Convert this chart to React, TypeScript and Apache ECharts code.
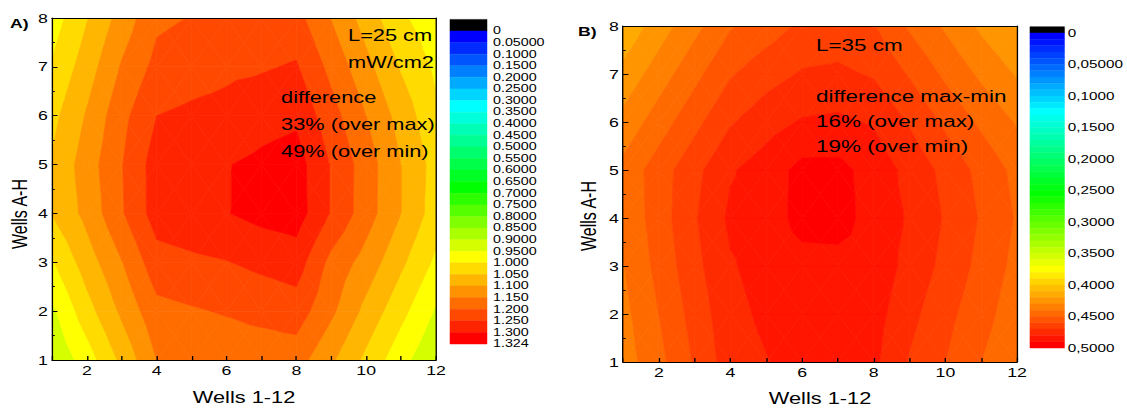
import React, { useEffect, useRef } from "react";
import * as echarts from "echarts";

// Plate geometry: columns 1-12, rows A-H drawn as 1-8
const wellColumns = [1, 2, 3, 4, 5, 6, 7, 8, 9, 10, 11, 12];
const wellRows = [1, 2, 3, 4, 5, 6, 7, 8];

// Irradiance at L = 25 cm (mW/cm2), one array per row, row 1 first
const irradiance25: number[][] = [
  [0.905, 0.975, 1.062, 1.150, 1.160, 1.168, 1.170, 1.172, 1.108, 1.038, 0.967, 0.905],
  [0.940, 1.030, 1.110, 1.185, 1.195, 1.204, 1.215, 1.226, 1.160, 1.085, 1.015, 0.945],
  [0.995, 1.075, 1.148, 1.230, 1.240, 1.248, 1.262, 1.274, 1.185, 1.130, 1.060, 0.990],
  [1.052, 1.115, 1.195, 1.273, 1.285, 1.298, 1.315, 1.324, 1.246, 1.173, 1.100, 1.025],
  [1.055, 1.125, 1.198, 1.273, 1.288, 1.298, 1.310, 1.322, 1.246, 1.175, 1.100, 1.030],
  [1.035, 1.105, 1.185, 1.250, 1.260, 1.265, 1.282, 1.290, 1.220, 1.150, 1.080, 1.010],
  [1.005, 1.075, 1.155, 1.215, 1.228, 1.240, 1.245, 1.255, 1.185, 1.115, 1.045, 0.990],
  [0.975, 1.047, 1.120, 1.190, 1.202, 1.210, 1.215, 1.217, 1.148, 1.078, 1.008, 0.970],
];

// Irradiance at L = 35 cm, same layout
const irradiance35: number[][] = [
  [0.435, 0.447, 0.461, 0.4755, 0.4795, 0.484, 0.485, 0.482, 0.469, 0.460, 0.450, 0.441],
  [0.437, 0.450, 0.464, 0.477, 0.482, 0.487, 0.487, 0.484, 0.473, 0.463, 0.454, 0.444],
  [0.4395, 0.453, 0.467, 0.479, 0.484, 0.486, 0.486, 0.486, 0.477, 0.467, 0.457, 0.447],
  [0.442, 0.455, 0.469, 0.482, 0.484, 0.494, 0.495, 0.485, 0.479, 0.469, 0.459, 0.449],
  [0.443, 0.455, 0.467, 0.479, 0.485, 0.493, 0.493, 0.486, 0.477, 0.467, 0.457, 0.447],
  [0.433, 0.445, 0.457, 0.469, 0.476, 0.481, 0.482, 0.479, 0.469, 0.458, 0.448, 0.439],
  [0.423, 0.435, 0.447, 0.459, 0.466, 0.471, 0.472, 0.469, 0.459, 0.448, 0.438, 0.429],
  [0.412, 0.425, 0.437, 0.449, 0.455, 0.462, 0.464, 0.4605, 0.4485, 0.4385, 0.428, 0.419],
];

// Contour levels and colour-bar labels
const levels25 = [
  0, 0.05, 0.1, 0.15, 0.2, 0.25, 0.3, 0.35, 0.4, 0.45, 0.5, 0.55, 0.6, 0.65, 0.7,
  0.75, 0.8, 0.85, 0.9, 0.95, 1.0, 1.05, 1.1, 1.15, 1.2, 1.25, 1.3, 1.324,
];
const levelLabels25 = [
  "0", "0.05000", "0.1000", "0.1500", "0.2000", "0.2500", "0.3000", "0.3500", "0.4000",
  "0.4500", "0.5000", "0.5500", "0.6000", "0.6500", "0.7000", "0.7500", "0.8000", "0.8500",
  "0.9000", "0.9500", "1.000", "1.050", "1.100", "1.150", "1.200", "1.250", "1.300", "1.324",
];
const levels35 = [
  0, 0.01, 0.02, 0.03, 0.04, 0.05, 0.06, 0.07, 0.08, 0.09,
  0.1, 0.11, 0.12, 0.13, 0.14, 0.15, 0.16, 0.17, 0.18, 0.19,
  0.2, 0.21, 0.22, 0.23, 0.24, 0.25, 0.26, 0.27, 0.28, 0.29,
  0.3, 0.31, 0.32, 0.33, 0.34, 0.35, 0.36, 0.37, 0.38, 0.39,
  0.4, 0.41, 0.42, 0.43, 0.44, 0.45, 0.46, 0.47, 0.48, 0.49, 0.5,
];
const levelLabels35 = [
  "0", "0,05000", "0,1000", "0,1500", "0,2000", "0,2500",
  "0,3000", "0,3500", "0,4000", "0,4500", "0,5000",
];

const FONT = "'Liberation Sans', Arial, Helvetica, sans-serif";
const PAGE_W = 1127;
const PAGE_H = 408;
const DESIGN_W = 828; // chart is laid out narrower and stretched horizontally

// blue -> cyan -> green -> yellow -> red, anchored on band indices
const rampColors = [
  [0, 0, 255],
  [0, 255, 255],
  [0, 255, 0],
  [255, 255, 0],
  [255, 0, 0],
];
function bandColors(count: number, anchors: number[]): string[] {
  const out: string[] = [];
  for (let k = 0; k < count; k++) {
    let s = 0;
    while (s < anchors.length - 2 && k > anchors[s + 1]) s++;
    const t = (k - anchors[s]) / (anchors[s + 1] - anchors[s]);
    const c = rampColors[s].map((v, n) => Math.round(v + (rampColors[s + 1][n] - v) * t));
    out.push(`rgb(${c[0]},${c[1]},${c[2]})`);
  }
  return out;
}
const colors25 = bandColors(levels25.length - 1, [0, 6, 13, 19, 26]);
const colors35 = bandColors(levels35.length - 1, [0, 12, 25, 37, 49]);

type Pt = { x: number; y: number; v: number };

function clipPoly(poly: Pt[], level: number, keepAbove: boolean): Pt[] {
  const out: Pt[] = [];
  for (let n = 0; n < poly.length; n++) {
    const p = poly[n];
    const q = poly[(n + 1) % poly.length];
    const pin = keepAbove ? p.v >= level : p.v <= level;
    const qin = keepAbove ? q.v >= level : q.v <= level;
    if (pin) out.push(p);
    if (pin !== qin) {
      const t = (level - p.v) / (q.v - p.v);
      out.push({ x: p.x + t * (q.x - p.x), y: p.y + t * (q.y - p.y), v: level });
    }
  }
  return out;
}

// Filled contours: each grid cell is split into four triangles around its centre,
// and each triangle is cut into the level bands it spans.
function contourRenderer(grid: number[][], levels: number[], colors: string[]) {
  return (_params: any, api: any) => {
    const i = api.value(2);
    const j = api.value(3);
    const x0 = wellColumns[i];
    const x1 = wellColumns[i + 1];
    const y0 = wellRows[j];
    const y1 = wellRows[j + 1];
    const P = (x: number, y: number, v: number): Pt => {
      const c = api.coord([x, y]);
      return { x: c[0], y: c[1], v };
    };
    const a = P(x0, y0, grid[j][i]);
    const b = P(x1, y0, grid[j][i + 1]);
    const c = P(x1, y1, grid[j + 1][i + 1]);
    const d = P(x0, y1, grid[j + 1][i]);
    const m = P((x0 + x1) / 2, (y0 + y1) / 2, (a.v + b.v + c.v + d.v) / 4);
    const tris = [[a, b, m], [b, c, m], [c, d, m], [d, a, m]];
    const children: any[] = [];
    const nb = levels.length - 1;
    for (const tri of tris) {
      const lo = Math.min(tri[0].v, tri[1].v, tri[2].v);
      const hi = Math.max(tri[0].v, tri[1].v, tri[2].v);
      for (let k = 0; k < nb; k++) {
        const bl = k === 0 ? -Infinity : levels[k];
        const bh = k === nb - 1 ? Infinity : levels[k + 1];
        if (bh < lo || bl > hi) continue;
        let poly = clipPoly(tri, bl, true);
        if (poly.length < 3) continue;
        poly = clipPoly(poly, bh, false);
        if (poly.length < 3) continue;
        children.push({
          type: "polygon",
          shape: { points: poly.map((p) => [p.x, p.y]) },
          style: { fill: colors[k], stroke: colors[k], lineWidth: 0.6 },
        });
      }
    }
    return { type: "group", children };
  };
}

function colorbarRenderer(colors: string[]) {
  return (_params: any, api: any) => {
    const k = api.value(0);
    const p0 = api.coord([0, k]);
    const p1 = api.coord([1, k + 1]);
    const fill = k < 0 ? "#000" : colors[k];
    return {
      type: "rect",
      shape: {
        x: p0[0],
        y: Math.min(p0[1], p1[1]),
        width: p1[0] - p0[0],
        height: Math.abs(p1[1] - p0[1]),
      },
      style: { fill, stroke: fill, lineWidth: 0.4 },
    };
  };
}

function cells() {
  const out: number[][] = [];
  for (let j = 0; j < wellRows.length - 1; j++) {
    for (let i = 0; i < wellColumns.length - 1; i++) {
      out.push([wellColumns[i] + 0.5, wellRows[j] + 0.5, i, j]);
    }
  }
  return out;
}

function bands(count: number) {
  const out: number[][] = [];
  for (let k = -1; k < count; k++) out.push([k]);
  return out;
}

const tickText = { color: "#000", fontSize: 13, fontFamily: FONT };

function wellsX(gridIndex: number) {
  return {
    type: "value",
    gridIndex,
    min: 1,
    max: 12,
    interval: 1,
    z: 5,
    axisLine: { show: true, onZero: false, lineStyle: { color: "#000", width: 1 } },
    axisTick: { show: true, inside: true, length: 4, lineStyle: { color: "#000" } },
    axisLabel: {
      ...tickText,
      margin: 4,
      formatter: (v: number) => (v % 2 === 0 ? String(v) : ""),
    },
    splitLine: { show: false },
  };
}
function wellsY(gridIndex: number) {
  return {
    type: "value",
    gridIndex,
    min: 1,
    max: 8,
    interval: 1,
    z: 5,
    axisLine: { show: true, onZero: false, lineStyle: { color: "#000", width: 1 } },
    axisTick: { show: true, inside: true, length: 4, lineStyle: { color: "#000" } },
    minorTick: { show: true, splitNumber: 2, length: 2, lineStyle: { color: "#000" } },
    axisLabel: { ...tickText, margin: 3 },
    splitLine: { show: false },
  };
}
function frameX(gridIndex: number) {
  return {
    type: "value",
    gridIndex,
    position: "top",
    min: 1,
    max: 12,
    z: 5,
    axisLine: { show: true, onZero: false, lineStyle: { color: "#000", width: 1 } },
    axisTick: { show: false },
    axisLabel: { show: false },
    splitLine: { show: false },
  };
}
function frameY(gridIndex: number) {
  return {
    type: "value",
    gridIndex,
    position: "right",
    min: 1,
    max: 8,
    z: 5,
    axisLine: { show: true, onZero: false, lineStyle: { color: "#000", width: 1 } },
    axisTick: { show: false },
    axisLabel: { show: false },
    splitLine: { show: false },
  };
}
function barX(gridIndex: number) {
  return { type: "value", gridIndex, min: 0, max: 1, show: false };
}
function barY(
  gridIndex: number,
  max: number,
  margin: number,
  size: number,
  drop: number,
  label: (k: number) => string
) {
  return {
    type: "value",
    gridIndex,
    inverse: true,
    position: "right",
    min: -1,
    max,
    interval: 1,
    axisLine: { show: false },
    axisTick: { show: false },
    splitLine: { show: false },
    axisLabel: {
      color: "#000",
      fontSize: size,
      fontFamily: FONT,
      margin,
      padding: [drop * 2, 0, 0, 0],
      formatter: (v: number) => label(Math.round(v)),
    },
  };
}

function note(
  text: string,
  x: number,
  y: number,
  size: number,
  opts: { bold?: boolean; center?: boolean; vertical?: boolean } = {}
) {
  const align = opts.center ? "center" : "left";
  return {
    type: "text",
    x,
    y,
    z: 100,
    rotation: opts.vertical ? Math.PI / 2 : 0,
    silent: true,
    style: {
      text,
      fill: "#000",
      fontSize: size,
      fontFamily: FONT,
      fontWeight: opts.bold ? "bold" : "normal",
      align,
      verticalAlign: "middle",
      textAlign: align,
      textVerticalAlign: "middle",
    },
  };
}

export default function App() {
  const ref = useRef<HTMLDivElement>(null);

  useEffect(() => {
    if (!ref.current) return;
    const chart = echarts.init(ref.current, undefined, { renderer: "svg" });
    const nb25 = levels25.length - 1;
    const nb35 = levels35.length - 1;

    chart.setOption({
      animation: false,
      backgroundColor: "#fff",
      grid: [
        { left: 38.2, top: 18, width: 282.1, height: 342 },
        { left: 457.7, top: 26, width: 289.5, height: 336 },
        { left: 330.6, top: 19.4, width: 27.2, height: 324.6 },
        { left: 756.7, top: 26.7, width: 29.4, height: 321.3 },
      ],
      xAxis: [wellsX(0), frameX(0), wellsX(1), frameX(1), barX(2), barX(3)],
      yAxis: [
        wellsY(0),
        frameY(0),
        wellsY(1),
        frameY(1),
        barY(2, nb25, 4.4, 10.5, 5.5, (k) =>
          k >= 0 && k < levelLabels25.length ? levelLabels25[k] : ""
        ),
        barY(3, nb35, 2.5, 11.2, 4.5, (k) =>
          k >= 0 && k % 5 === 0 ? levelLabels35[k / 5] : ""
        ),
      ],
      series: [
        {
          type: "custom",
          name: "L=25 cm",
          xAxisIndex: 0,
          yAxisIndex: 0,
          clip: true,
          silent: true,
          renderItem: contourRenderer(irradiance25, levels25, colors25),
          data: cells(),
        },
        {
          type: "custom",
          name: "L=35 cm",
          xAxisIndex: 2,
          yAxisIndex: 2,
          clip: true,
          silent: true,
          renderItem: contourRenderer(irradiance35, levels35, colors35),
          data: cells(),
        },
        {
          type: "custom",
          name: "scale 25",
          xAxisIndex: 4,
          yAxisIndex: 4,
          silent: true,
          renderItem: colorbarRenderer(colors25),
          data: bands(nb25),
        },
        {
          type: "custom",
          name: "scale 35",
          xAxisIndex: 5,
          yAxisIndex: 5,
          silent: true,
          renderItem: colorbarRenderer(colors35),
          data: bands(nb35),
        },
      ],
      graphic: {
        elements: [
          // axis titles
          note("Wells 1-12", 179.3, 398, 16, { center: true }),
          note("Wells A-H", 14.1, 214, 16, { center: true, vertical: true }),
          note("Wells 1-12", 602.5, 399, 16, { center: true }),
          note("Wells A-H", 432.4, 216, 16, { center: true, vertical: true }),
          // panel A
          note("A)", 7.3, 23, 13, { bold: true }),
          note("L=25 cm", 255.7, 36, 16),
          note("mW/cm2", 255.7, 63, 16),
          note("difference", 206.5, 98, 16),
          note("33% (over max)", 206.5, 125, 16),
          note("49% (over min)", 206.5, 152, 16),
          // panel B
          note("B)", 424.7, 31.7, 13, { bold: true }),
          note("L=35 cm", 599.5, 45, 16.5),
          note("difference max-min", 599.5, 96, 16.5),
          note("16% (over max)", 599.5, 121, 16.5),
          note("19% (over min)", 599.5, 146, 16.5),
        ],
      },
    });

    return () => chart.dispose();
  }, []);

  return (
    <div
      style={{
        position: "absolute",
        left: 0,
        top: 0,
        width: PAGE_W,
        height: PAGE_H,
        overflow: "hidden",
        background: "#fff",
      }}
    >
      <div
        ref={ref}
        style={{
          width: DESIGN_W,
          height: PAGE_H,
          transform: `scaleX(${PAGE_W / DESIGN_W})`,
          transformOrigin: "0 0",
        }}
      />
    </div>
  );
}
